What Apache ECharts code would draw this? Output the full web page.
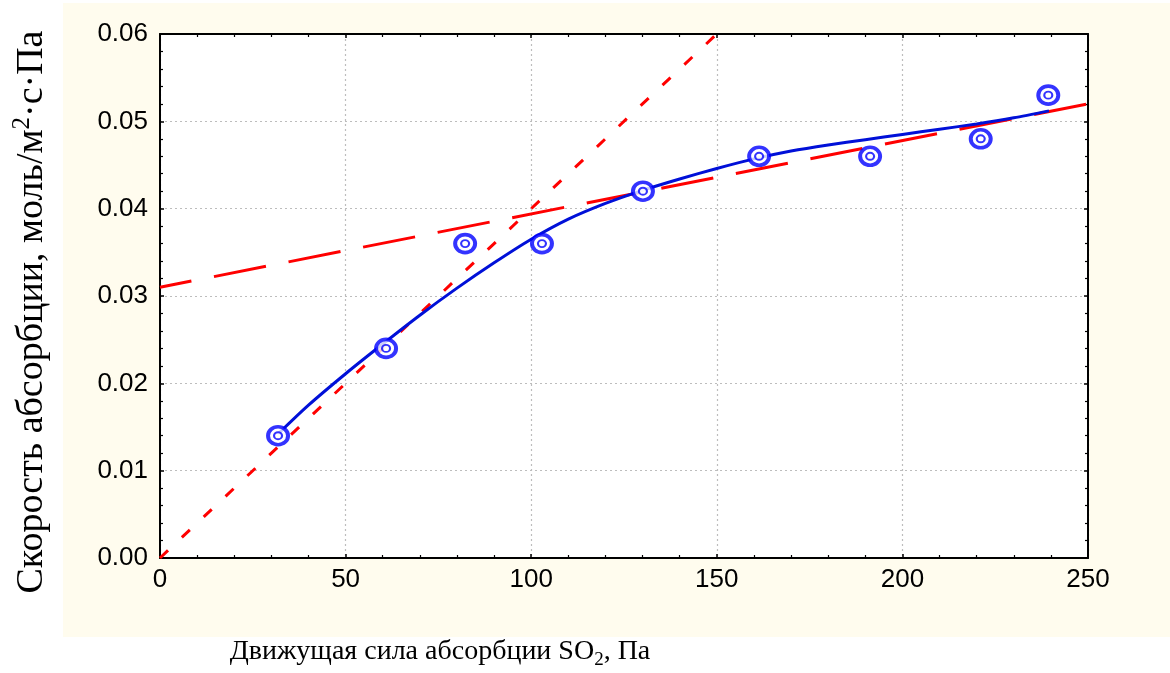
<!DOCTYPE html>
<html>
<head>
<meta charset="utf-8">
<script src="https://cdn.jsdelivr.net/npm/echarts@6/dist/echarts.min.js"></script>
<style>
  html, body { margin: 0; padding: 0; background: #ffffff; }
  #panel { position: absolute; left: 63px; top: 3px; width: 1107px; height: 634px; background: #fffcee; }
  #chart { position: absolute; left: 0; top: 0; width: 1170px; height: 673px; }
</style>
</head>
<body>
<div id="panel"></div>
<div id="chart"></div>
<script>
// Axis ranges and tick steps
const xMin = 0, xMax = 250, xStep = 50;
const yMin = 0, yMax = 0.06, yStep = 0.01;

// Measured absorption rate vs. SO2 driving force
const pointX = [31.8, 60.9, 82.2, 102.9, 130.1, 161.4, 191.3, 221.1, 239.3];
const pointY = [0.014, 0.024, 0.036, 0.036, 0.042, 0.046, 0.046, 0.048, 0.053];

// Fitted curve through the measurements
const curveX = [31.8, 40, 50, 60, 70, 80, 90, 100, 110, 120, 130, 140, 150, 160, 170, 180, 190, 200, 210, 220, 230, 239.5];
const curveY = [0.0142, 0.0175, 0.0211, 0.0245, 0.0278, 0.0309, 0.0338, 0.0365, 0.0388, 0.0406, 0.0421, 0.0434, 0.0446, 0.0457, 0.0466, 0.0473, 0.0479, 0.0485, 0.0491, 0.0497, 0.0504, 0.0512];

// Initial-slope line (short dashes)
const slopeX = [0, 150];
const slopeY = [0, 0.06];

// High-pressure asymptote (long dashes)
const asymX = [0, 250];
const asymY = [0.031, 0.052];

const zip = (xs, ys) => xs.map((x, i) => [x, ys[i]]);

const labelFont = { fontFamily: '"Liberation Sans", Arial, sans-serif', fontSize: 26, color: '#000' };
const serif = '"Liberation Serif", "Times New Roman", serif';

function axisBase(min, max, step) {
  return {
    type: 'value', min: min, max: max, interval: step,
    axisLine: { show: true, onZero: false, lineStyle: { color: '#000', width: 2 } },
    axisTick: { show: true, inside: true, length: 4, lineStyle: { color: '#000', width: 1.5 } },
    minorTick: { show: true, splitNumber: 5, length: 3, lineStyle: { color: '#000', width: 1.2 } },
    splitLine: { show: false },
    minorSplitLine: { show: false }
  };
}

const dotted = { show: true, lineStyle: { color: '#bdbdbd', width: 1.2, type: [2, 3] } };

const chart = echarts.init(document.getElementById('chart'), null, { renderer: 'canvas' });

chart.setOption({
  animation: false,
  backgroundColor: 'transparent',
  grid: { left: 160, right: 82, top: 34, bottom: 115, show: true, backgroundColor: '#ffffff', borderWidth: 0, containLabel: false },
  xAxis: [
    Object.assign(axisBase(xMin, xMax, xStep), {
      position: 'bottom', splitLine: dotted,
      axisLabel: Object.assign({ margin: 9 }, labelFont)
    }),
    Object.assign(axisBase(xMin, xMax, xStep), {
      position: 'top', axisLabel: { show: false }
    })
  ],
  yAxis: [
    Object.assign(axisBase(yMin, yMax, yStep), {
      position: 'left', splitLine: dotted,
      axisLabel: Object.assign({ margin: 12, formatter: v => v.toFixed(2) }, labelFont)
    }),
    Object.assign(axisBase(yMin, yMax, yStep), {
      position: 'right', axisLabel: { show: false }
    })
  ],
  series: [
    {
      name: 'slope', type: 'line', data: zip(slopeX, slopeY), showSymbol: false, silent: true,
      lineStyle: { color: '#ff0000', width: 3, type: [11, 19], cap: 'butt' }, z: 2
    },
    {
      name: 'asymptote', type: 'line', data: zip(asymX, asymY), showSymbol: false, silent: true,
      lineStyle: { color: '#ff0000', width: 3, type: [53, 23], dashOffset: 21, cap: 'butt' }, z: 2
    },
    {
      name: 'fit', type: 'line', data: zip(curveX, curveY), showSymbol: false, silent: true,
      smooth: 0.25,
      lineStyle: { color: '#0010d8', width: 3 }, z: 3
    },
    {
      name: 'measured', type: 'scatter', data: zip(pointX, pointY), symbol: 'circle', symbolSize: [20, 18],
      itemStyle: { color: '#ffffff', borderColor: '#0000ff', borderWidth: 3.8 }, z: 4
    },
    {
      name: 'measured-core', type: 'scatter', data: zip(pointX, pointY), symbol: 'circle', symbolSize: [8, 7],
      itemStyle: { color: '#ffffff', borderColor: '#0000ff', borderWidth: 2 }, z: 5
    }
  ],
  graphic: [
    {
      type: 'text', x: 32, y: 312, rotation: Math.PI / 2,
      style: {
        text: 'Скорость абсорбции, моль/м{sup|2}·с·Па',
        fontFamily: serif, fontSize: 38, fill: '#000',
        textAlign: 'center', textVerticalAlign: 'middle',
        rich: { sup: { fontFamily: serif, fontSize: 25, verticalAlign: 'top', lineHeight: 45 } }
      }
    },
    {
      type: 'text', x: 440, y: 652,
      style: {
        text: 'Движущая сила абсорбции SO{sub|2}, Па',
        fontFamily: serif, fontSize: 28, fill: '#000',
        textAlign: 'center', textVerticalAlign: 'middle',
        rich: { sub: { fontFamily: serif, fontSize: 19, verticalAlign: 'bottom', lineHeight: 36 } }
      }
    }
  ]
});
</script>
</body>
</html>
